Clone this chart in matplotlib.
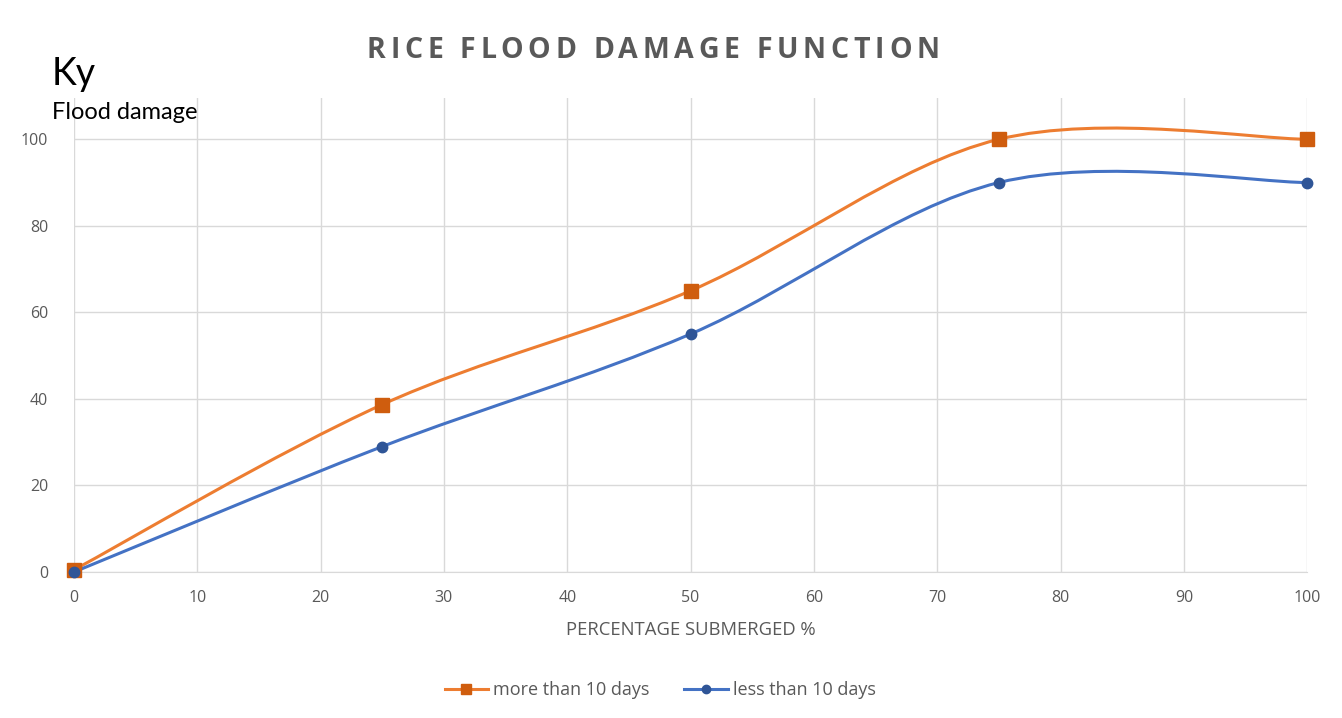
import matplotlib
matplotlib.use('Agg')
import matplotlib.pyplot as plt
from matplotlib.path import Path
from matplotlib.patches import PathPatch
from matplotlib.lines import Line2D
from matplotlib.textpath import TextToPath
from matplotlib.font_manager import FontProperties

# Submerged percentage and damage values for the two flood durations
submerged = [0, 25, 50, 75, 100]
more_than_10 = [0.5, 38.7, 65, 100, 100]
less_than_10 = [0, 29, 55, 90, 90]
x_ticks = [0, 10, 20, 30, 40, 50, 60, 70, 80, 90, 100]
y_ticks = [0, 20, 40, 60, 80, 100]
title = 'RICE FLOOD DAMAGE FUNCTION'

ORANGE = '#ED7D31'
ORANGE_DARK = '#CF5D0E'
BLUE = '#4472C4'
BLUE_DARK = '#2F5597'
GREY = '#595959'

plt.rcParams['font.family'] = ['Open Sans', 'DejaVu Sans']


def smooth_path(xs, ys):
    # Excel-style smoothed line: cubic Bezier segments, Catmull-Rom tangents
    pts = list(zip(xs, ys))
    verts = [pts[0]]
    codes = [Path.MOVETO]
    n = len(pts)
    for i in range(n - 1):
        p0 = pts[i - 1] if i > 0 else pts[i]
        p1 = pts[i]
        p2 = pts[i + 1]
        p3 = pts[i + 2] if i + 2 < n else pts[i + 1]
        c1 = (p1[0] + (p2[0] - p0[0]) / 6, p1[1] + (p2[1] - p0[1]) / 6)
        c2 = (p2[0] - (p3[0] - p1[0]) / 6, p2[1] - (p3[1] - p1[1]) / 6)
        verts += [c1, c2, p2]
        codes += [Path.CURVE4] * 3
    return Path(verts, codes)


def spaced_text(fig, s, cx, cy, total_px, prop, color):
    # matplotlib has no letter-spacing, so place the letters one by one
    ttp = TextToPath()
    px = fig.dpi / 72.0

    def width(t):
        return ttp.get_text_width_height_descent(t, prop, ismath=False)[0] * px

    natural = width(s)
    gap = (total_px - natural) / (len(s) - 1)
    W, H = fig.get_size_inches() * fig.dpi
    left = cx - total_px / 2
    for i, ch in enumerate(s):
        if ch == ' ':
            continue
        x = left + width(s[:i + 1]) - width(ch) + i * gap
        fig.text(x / W, 1 - cy / H, ch, ha='left', va='baseline',
                 fontproperties=prop, color=color)


fig = plt.figure(figsize=(13.42, 7.18), dpi=100)
ax = fig.add_axes([0.0551, 0.2033, 0.919, 0.660])
ax.set_xlim(0, 100)
ax.set_ylim(0, 109.5)
ax.set_xticks(x_ticks)
ax.set_yticks(y_ticks)
ax.grid(True, color='#D9D9D9', linewidth=1)
ax.set_axisbelow(True)
for side in ['top', 'right', 'left']:
    ax.spines[side].set_visible(False)
ax.spines['bottom'].set_color('#D9D9D9')
ax.tick_params(length=0, labelsize=11.5, labelcolor=GREY, pad=13)
ax.tick_params(axis='y', pad=18.5)

for ys, lc, mc, mk, ms in [(more_than_10, ORANGE, ORANGE_DARK, 's', 10),
                           (less_than_10, BLUE, BLUE_DARK, 'o', 7.5)]:
    ax.add_patch(PathPatch(smooth_path(submerged, ys), facecolor='none',
                           edgecolor=lc, linewidth=2.2, zorder=3))
    ax.plot(submerged, ys, linestyle='none', marker=mk, markersize=ms,
            color=mc, zorder=4, clip_on=False)

ax.set_xlabel('PERCENTAGE SUBMERGED %', fontsize=13.3, color=GREY, labelpad=11)

title_prop = FontProperties(family='Open Sans', weight='bold', size=20.5)
spaced_text(fig, title, 653, 58.5, 573, title_prop, GREY)

fig.text(0.0385, 0.8816, 'Ky', fontsize=27, color='black', ha='left',
         va='baseline', family=['Lato', 'DejaVu Sans'])
fig.text(0.039, 0.8343, 'Flood damage', fontsize=17, color='black', ha='left',
         va='baseline', family=['Lato', 'DejaVu Sans'])

handles = [Line2D([], [], color=ORANGE, lw=2.2, marker='s', markersize=7,
                  markerfacecolor=ORANGE_DARK, markeredgecolor=ORANGE_DARK),
           Line2D([], [], color=BLUE, lw=2.2, marker='o', markersize=6,
                  markerfacecolor=BLUE_DARK, markeredgecolor=BLUE_DARK)]
leg = fig.legend(handles, ['more than 10 days', 'less than 10 days'],
                 loc='center', bbox_to_anchor=(0.492, 0.039), ncol=2,
                 frameon=False, fontsize=13, handlelength=2.4, columnspacing=1.9,
                 handletextpad=0.3)
for t in leg.get_texts():
    t.set_color(GREY)

plt.savefig('out.png', dpi=100)
